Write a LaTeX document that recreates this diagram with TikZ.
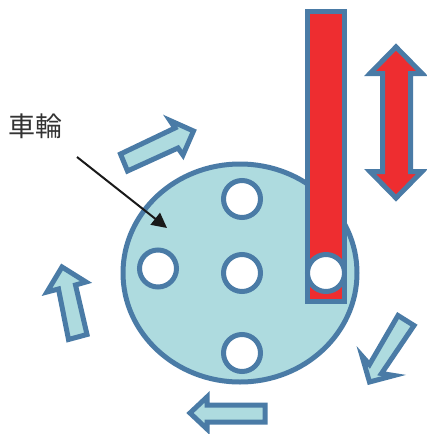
\documentclass[tikz,border=0pt]{standalone}
\usepackage{fontspec}
\newfontfamily\cjk{Noto Sans CJK JP}
\usetikzlibrary{arrows.meta}
\definecolor{wheelfill}{HTML}{AEDBDF}
\definecolor{edgeblue}{HTML}{4A7BA6}
\definecolor{barred}{HTML}{EE2D30}
\tikzset{
  shapeedge/.style={draw=edgeblue,line width=5pt,miter limit=10,line join=miter},
  wheelbody/.style={shapeedge,fill=wheelfill},
  redbody/.style={shapeedge,fill=barred},
  hole/.style={shapeedge,fill=white},
  flow/.style={shapeedge,fill=wheelfill},
  pointer/.style={draw=black!90,line width=2pt,-{Triangle[length=15pt,width=15pt]}}
}
\begin{document}
\begin{tikzpicture}[x=1pt,y=-1pt]
\useasboundingbox (0,0) rectangle (427,434);
% wheel
\draw[wheelbody] (240,273) ellipse (117 and 109);
% piston rod
\draw[redbody] (307,11.5) rectangle (344.5,301);
% holes
\draw[hole] (242,199) circle (18.5);
\draw[hole] (158,268.5) circle (18.5);
\draw[hole] (242,273) circle (18.5);
\draw[hole] (242,353) circle (18.5);
\draw[hole] (326,273) circle (18.5);
% double arrow
\draw[redbody] (396,47) -- (422,73.5) -- (410.5,73.5) -- (410.5,171.5) -- (422,171.5) -- (396,198)
  -- (370,171.5) -- (382.5,171.5) -- (382.5,73.5) -- (370,73.5) -- cycle;
% rotation arrows
\draw[flow] (120.5,154) -- (127.5,171) -- (178,148) -- (183,155) -- (193.5,131) -- (170,120.5) -- (175,128) -- cycle;
\draw[flow] (398,315.5) -- (414,325.5) -- (381.5,373.5) -- (394,375.5) -- (369.5,382) -- (362,356) -- (369.5,364.5) -- cycle;
\draw[flow] (265,405) -- (265,422) -- (207,422) -- (207,429) -- (190,413) -- (207,397) -- (207,405) -- cycle;
\draw[flow] (62,267) -- (86,282) -- (75.5,285) -- (87,334.5) -- (68.5,339.5) -- (58.5,289) -- (47,292) -- cycle;
% label and pointer
\node[inner sep=0pt,anchor=center,text=black!80] (label) at (35.5,126.5) {\fontsize{27pt}{27pt}\cjk 車輪};
\coordinate (pstart) at (77,157);
\coordinate (ptip) at (167,228);
\draw[pointer] (pstart) -- (ptip);
\end{tikzpicture}
\end{document}
